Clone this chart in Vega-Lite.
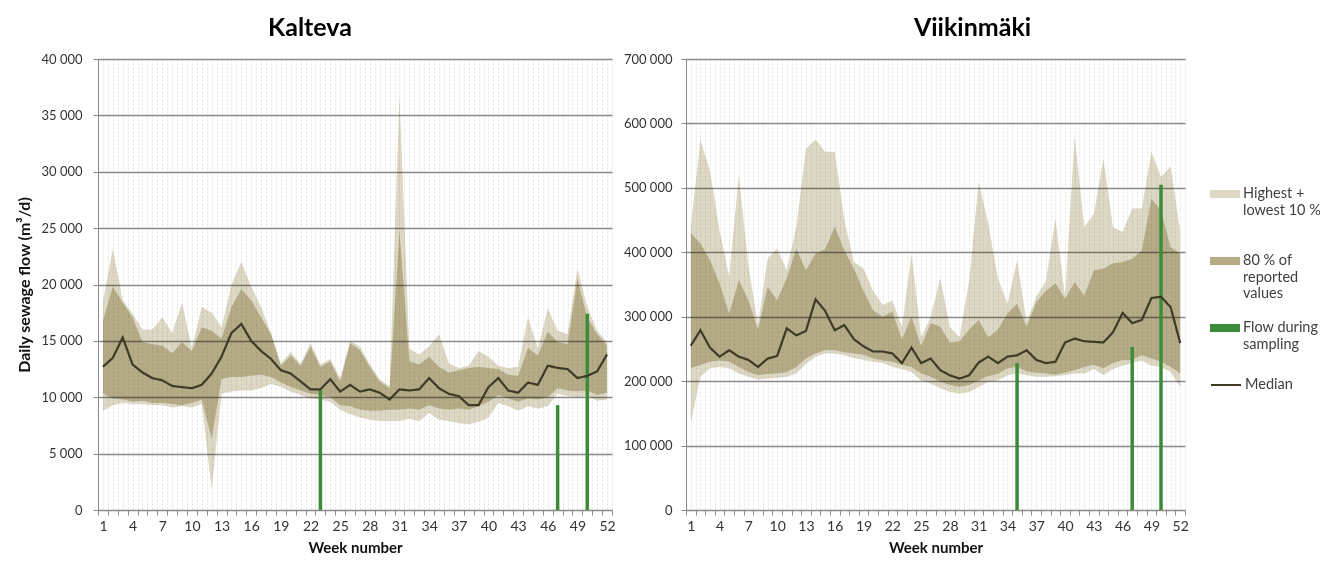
{
  "$schema": "https://vega.github.io/schema/vega-lite/v6.json",
  "background": "white",
  "padding": {"left": 16, "top": 16, "right": 0, "bottom": 0},
  "config": {
    "font": "Lato",
    "view": {"stroke": null},
    "locale": {"number": {"decimal": ".", "thousands": " ", "grouping": [3], "currency": ["", ""]}},
    "axis": {
      "labelFont": "Lato",
      "labelFontSize": 13,
      "labelColor": "#333333",
      "titleFont": "Lato",
      "titleFontSize": 15,
      "titleFontWeight": "bold",
      "titleColor": "#111111",
      "domainColor": "#8a8a8a",
      "tickColor": "#8a8a8a",
      "tickSize": 5
    },
    "legend": {"labelFont": "Lato", "labelFontSize": 14.5, "labelColor": "#404040", "labelLimit": 0, "labelOffset": 3},
    "title": {"font": "Lato", "fontSize": 25, "fontWeight": "bold", "color": "#000000", "anchor": "middle"}
  },
  "datasets": {
    "kalteva": [
      {"w": 1, "lo": 8800, "p10": 10300, "med": 12700, "p90": 16800, "hi": 18500},
      {"w": 2, "lo": 9300, "p10": 9900, "med": 13500, "p90": 19800, "hi": 23200},
      {"w": 3, "lo": 9500, "p10": 9800, "med": 15300, "p90": 18400, "hi": 18600},
      {"w": 4, "lo": 9400, "p10": 9600, "med": 12900, "p90": 17100, "hi": 17400},
      {"w": 5, "lo": 9400, "p10": 9700, "med": 12200, "p90": 14900, "hi": 16000},
      {"w": 6, "lo": 9300, "p10": 9500, "med": 11700, "p90": 14700, "hi": 16000},
      {"w": 7, "lo": 9300, "p10": 9500, "med": 11500, "p90": 14600, "hi": 17100},
      {"w": 8, "lo": 9100, "p10": 9400, "med": 11000, "p90": 13900, "hi": 15700},
      {"w": 9, "lo": 9200, "p10": 9300, "med": 10900, "p90": 14900, "hi": 18400},
      {"w": 10, "lo": 9100, "p10": 9500, "med": 10800, "p90": 14100, "hi": 14400},
      {"w": 11, "lo": 9400, "p10": 9800, "med": 11100, "p90": 16200, "hi": 18000},
      {"w": 12, "lo": 1800, "p10": 6300, "med": 12100, "p90": 15900, "hi": 17500},
      {"w": 13, "lo": 10300, "p10": 11600, "med": 13600, "p90": 15200, "hi": 16200},
      {"w": 14, "lo": 10500, "p10": 11800, "med": 15700, "p90": 18000, "hi": 20000},
      {"w": 15, "lo": 10600, "p10": 11800, "med": 16500, "p90": 19600, "hi": 22000},
      {"w": 16, "lo": 10600, "p10": 11900, "med": 15000, "p90": 18600, "hi": 19800},
      {"w": 17, "lo": 10800, "p10": 12000, "med": 14100, "p90": 17100, "hi": 18000},
      {"w": 18, "lo": 11200, "p10": 11800, "med": 13400, "p90": 15600, "hi": 15700},
      {"w": 19, "lo": 10900, "p10": 11300, "med": 12400, "p90": 12800, "hi": 13000},
      {"w": 20, "lo": 10500, "p10": 10900, "med": 12100, "p90": 13700, "hi": 14000},
      {"w": 21, "lo": 10200, "p10": 10600, "med": 11400, "p90": 12800, "hi": 13000},
      {"w": 22, "lo": 9900, "p10": 10300, "med": 10700, "p90": 14500, "hi": 14800},
      {"w": 23, "lo": 9800, "p10": 10200, "med": 10700, "p90": 12700, "hi": 12900},
      {"w": 24, "lo": 9600, "p10": 10000, "med": 11600, "p90": 13200, "hi": 13400},
      {"w": 25, "lo": 8900, "p10": 9300, "med": 10500, "p90": 11400, "hi": 11700},
      {"w": 26, "lo": 8500, "p10": 9200, "med": 11100, "p90": 14800, "hi": 15000},
      {"w": 27, "lo": 8200, "p10": 8900, "med": 10500, "p90": 14200, "hi": 14500},
      {"w": 28, "lo": 8000, "p10": 8800, "med": 10700, "p90": 12700, "hi": 12900},
      {"w": 29, "lo": 7900, "p10": 8800, "med": 10400, "p90": 11400, "hi": 11600},
      {"w": 30, "lo": 7900, "p10": 8900, "med": 9800, "p90": 10800, "hi": 11000},
      {"w": 31, "lo": 7900, "p10": 8900, "med": 10700, "p90": 24800, "hi": 36800},
      {"w": 32, "lo": 8100, "p10": 9000, "med": 10600, "p90": 13200, "hi": 14300},
      {"w": 33, "lo": 7900, "p10": 8900, "med": 10700, "p90": 12900, "hi": 13800},
      {"w": 34, "lo": 8600, "p10": 9300, "med": 11700, "p90": 13600, "hi": 14500},
      {"w": 35, "lo": 8000, "p10": 9000, "med": 10800, "p90": 12700, "hi": 15600},
      {"w": 36, "lo": 7900, "p10": 8900, "med": 10300, "p90": 12200, "hi": 13000},
      {"w": 37, "lo": 7700, "p10": 9000, "med": 10100, "p90": 12400, "hi": 12600},
      {"w": 38, "lo": 7600, "p10": 8900, "med": 9300, "p90": 12600, "hi": 12800},
      {"w": 39, "lo": 7800, "p10": 9200, "med": 9300, "p90": 12700, "hi": 14100},
      {"w": 40, "lo": 8200, "p10": 9600, "med": 10900, "p90": 12600, "hi": 13600},
      {"w": 41, "lo": 9500, "p10": 10200, "med": 11700, "p90": 12500, "hi": 12800},
      {"w": 42, "lo": 9200, "p10": 9900, "med": 10600, "p90": 12000, "hi": 12600},
      {"w": 43, "lo": 8800, "p10": 9600, "med": 10400, "p90": 11900, "hi": 12700},
      {"w": 44, "lo": 9200, "p10": 9900, "med": 11300, "p90": 14400, "hi": 17100},
      {"w": 45, "lo": 9000, "p10": 9800, "med": 11100, "p90": 13700, "hi": 14300},
      {"w": 46, "lo": 9200, "p10": 10000, "med": 12800, "p90": 15800, "hi": 17900},
      {"w": 47, "lo": 10300, "p10": 10800, "med": 12600, "p90": 14900, "hi": 15900},
      {"w": 48, "lo": 10100, "p10": 10600, "med": 12500, "p90": 14700, "hi": 15600},
      {"w": 49, "lo": 10000, "p10": 10500, "med": 11700, "p90": 20500, "hi": 21400},
      {"w": 50, "lo": 10100, "p10": 10600, "med": 11900, "p90": 17100, "hi": 18000},
      {"w": 51, "lo": 9700, "p10": 10200, "med": 12300, "p90": 15600, "hi": 15900},
      {"w": 52, "lo": 9800, "p10": 10400, "med": 13800, "p90": 14600, "hi": 14900}
    ],
    "kalteva_sampling": [
      {"w": 23, "flow": 10600},
      {"w": 47, "flow": 9300},
      {"w": 50, "flow": 17400}
    ],
    "viikinmaki": [
      {"w": 1, "lo": 135000, "p10": 220000, "med": 255000, "p90": 430000, "hi": 440000},
      {"w": 2, "lo": 207000, "p10": 225000, "med": 279000, "p90": 414000, "hi": 574000},
      {"w": 3, "lo": 220000, "p10": 230000, "med": 252000, "p90": 388000, "hi": 527000},
      {"w": 4, "lo": 222000, "p10": 232000, "med": 238000, "p90": 352000, "hi": 434000},
      {"w": 5, "lo": 220000, "p10": 230000, "med": 248000, "p90": 305000, "hi": 362000},
      {"w": 6, "lo": 212000, "p10": 222000, "med": 238000, "p90": 357000, "hi": 520000},
      {"w": 7, "lo": 207000, "p10": 214000, "med": 233000, "p90": 326000, "hi": 380000},
      {"w": 8, "lo": 202000, "p10": 209000, "med": 222000, "p90": 280000, "hi": 287000},
      {"w": 9, "lo": 204000, "p10": 211000, "med": 235000, "p90": 346000, "hi": 390000},
      {"w": 10, "lo": 205000, "p10": 212000, "med": 239000, "p90": 326000, "hi": 406000},
      {"w": 11, "lo": 207000, "p10": 214000, "med": 282000, "p90": 360000, "hi": 372000},
      {"w": 12, "lo": 212000, "p10": 222000, "med": 271000, "p90": 406000, "hi": 440000},
      {"w": 13, "lo": 227000, "p10": 235000, "med": 278000, "p90": 372000, "hi": 561000},
      {"w": 14, "lo": 238000, "p10": 243000, "med": 327000, "p90": 398000, "hi": 575000},
      {"w": 15, "lo": 243000, "p10": 248000, "med": 309000, "p90": 405000, "hi": 556000},
      {"w": 16, "lo": 243000, "p10": 248000, "med": 279000, "p90": 440000, "hi": 556000},
      {"w": 17, "lo": 240000, "p10": 245000, "med": 287000, "p90": 403000, "hi": 450000},
      {"w": 18, "lo": 236000, "p10": 243000, "med": 265000, "p90": 375000, "hi": 385000},
      {"w": 19, "lo": 233000, "p10": 241000, "med": 254000, "p90": 340000, "hi": 375000},
      {"w": 20, "lo": 230000, "p10": 235000, "med": 246000, "p90": 310000, "hi": 340000},
      {"w": 21, "lo": 228000, "p10": 232000, "med": 246000, "p90": 300000, "hi": 318000},
      {"w": 22, "lo": 222000, "p10": 230000, "med": 243000, "p90": 308000, "hi": 325000},
      {"w": 23, "lo": 219000, "p10": 225000, "med": 228000, "p90": 265000, "hi": 284000},
      {"w": 24, "lo": 214000, "p10": 222000, "med": 252000, "p90": 300000, "hi": 398000},
      {"w": 25, "lo": 201000, "p10": 212000, "med": 228000, "p90": 255000, "hi": 268000},
      {"w": 26, "lo": 196000, "p10": 207000, "med": 235000, "p90": 290000, "hi": 300000},
      {"w": 27, "lo": 189000, "p10": 199000, "med": 217000, "p90": 285000, "hi": 360000},
      {"w": 28, "lo": 183000, "p10": 194000, "med": 209000, "p90": 260000, "hi": 284000},
      {"w": 29, "lo": 181000, "p10": 191000, "med": 204000, "p90": 262000, "hi": 268000},
      {"w": 30, "lo": 183000, "p10": 194000, "med": 209000, "p90": 280000, "hi": 355000},
      {"w": 31, "lo": 191000, "p10": 201000, "med": 229000, "p90": 295000, "hi": 510000},
      {"w": 32, "lo": 199000, "p10": 208000, "med": 238000, "p90": 268000, "hi": 445000},
      {"w": 33, "lo": 201000, "p10": 211000, "med": 228000, "p90": 280000, "hi": 360000},
      {"w": 34, "lo": 209000, "p10": 220000, "med": 238000, "p90": 305000, "hi": 320000},
      {"w": 35, "lo": 212000, "p10": 222000, "med": 240000, "p90": 320000, "hi": 388000},
      {"w": 36, "lo": 209000, "p10": 215000, "med": 248000, "p90": 285000, "hi": 292000},
      {"w": 37, "lo": 207000, "p10": 213000, "med": 233000, "p90": 323000, "hi": 331000},
      {"w": 38, "lo": 207000, "p10": 212000, "med": 228000, "p90": 340000, "hi": 355000},
      {"w": 39, "lo": 208000, "p10": 210000, "med": 230000, "p90": 352000, "hi": 452000},
      {"w": 40, "lo": 209000, "p10": 213000, "med": 260000, "p90": 328000, "hi": 331000},
      {"w": 41, "lo": 212000, "p10": 217000, "med": 266000, "p90": 354000, "hi": 580000},
      {"w": 42, "lo": 212000, "p10": 222000, "med": 262000, "p90": 333000, "hi": 439000},
      {"w": 43, "lo": 219000, "p10": 225000, "med": 261000, "p90": 372000, "hi": 460000},
      {"w": 44, "lo": 209000, "p10": 220000, "med": 260000, "p90": 375000, "hi": 545000},
      {"w": 45, "lo": 219000, "p10": 228000, "med": 276000, "p90": 383000, "hi": 439000},
      {"w": 46, "lo": 224000, "p10": 233000, "med": 306000, "p90": 385000, "hi": 432000},
      {"w": 47, "lo": 228000, "p10": 233000, "med": 290000, "p90": 390000, "hi": 468000},
      {"w": 48, "lo": 232000, "p10": 240000, "med": 295000, "p90": 403000, "hi": 468000},
      {"w": 49, "lo": 224000, "p10": 235000, "med": 329000, "p90": 483000, "hi": 556000},
      {"w": 50, "lo": 222000, "p10": 230000, "med": 331000, "p90": 465000, "hi": 517000},
      {"w": 51, "lo": 214000, "p10": 222000, "med": 315000, "p90": 408000, "hi": 533000},
      {"w": 52, "lo": 191000, "p10": 212000, "med": 259000, "p90": 398000, "hi": 434000}
    ],
    "viikinmaki_sampling": [
      {"w": 35, "flow": 228000},
      {"w": 47, "flow": 253000},
      {"w": 50, "flow": 505000}
    ]
  },
  "hconcat": [
    {
      "width": 514,
      "height": 451,
      "title": {"text": "Kalteva", "dx": -45, "offset": 12},
      "data": {"name": "kalteva"},
      "encoding": {
        "x": {
          "field": "w",
          "type": "quantitative",
          "scale": {"domain": [0.5, 52.5], "nice": false, "zero": false},
          "axis": {
            "title": "Week number",
            "titlePadding": 7,
            "values": [0.5,1,1.5,2,2.5,3,3.5,4,4.5,5,5.5,6,6.5,7,7.5,8,8.5,9,9.5,10,10.5,11,11.5,12,12.5,13,13.5,14,14.5,15,15.5,16,16.5,17,17.5,18,18.5,19,19.5,20,20.5,21,21.5,22,22.5,23,23.5,24,24.5,25,25.5,26,26.5,27,27.5,28,28.5,29,29.5,30,30.5,31,31.5,32,32.5,33,33.5,34,34.5,35,35.5,36,36.5,37,37.5,38,38.5,39,39.5,40,40.5,41,41.5,42,42.5,43,43.5,44,44.5,45,45.5,46,46.5,47,47.5,48,48.5,49,49.5,50,50.5,51,51.5,52,52.5],
            "labelExpr": "datum.value % 3 === 1 ? datum.value : ''",
            "labelOverlap": false,
            "labelFlush": false,
            "labelBound": false,
            "labelPadding": 4,
            "labelFontSize": 14,
            "grid": true,
            "gridColor": "#e4e4e4",
            "gridDash": [2, 2],
            "gridWidth": 1,
            "tickOpacity": {"condition": {"test": "datum.value % 1 === 0", "value": 0}, "value": 1}
          }
        }
      },
      "layer": [
        {
          "mark": {"type": "area", "blend": "multiply"},
          "encoding": {
            "y": {
              "field": "p10",
              "type": "quantitative",
              "stack": null,
              "scale": {"domain": [0, 40000], "nice": false},
              "axis": {
                "title": "Daily sewage flow (m³/d)",
                "titleFontSize": 16,
                "titlePadding": 8,
                "values": [0, 5000, 10000, 15000, 20000, 25000, 30000, 35000, 40000],
                "format": ",d",
                "labelPadding": 11,
                "grid": true,
                "gridColor": "#8a8a8a",
                "gridWidth": 1.3
              }
            },
            "y2": {"field": "lo"},
            "color": {
              "datum": "Highest + lowest 10 %",
              "scale": {
                "domain": ["Highest + lowest 10 %", "80 % of reported values", "Flow during sampling"],
                "range": ["#ddd8c4", "#b5ac87", "#3c8b38"]
              },
              "legend": {
                "title": null,
                "orient": "none",
                "legendX": 1112,
                "legendY": 120,
                "symbolType": "M-1,-0.27H1V0.27H-1Z",
                "symbolSize": 900,
                "symbolOpacity": 1,
                "symbolStrokeWidth": 0,
                "labelBaseline": "middle",
                "labelLineHeight": 18,
                "rowPadding": 12,
                "labelExpr": "datum.value === 'Highest + lowest 10 %' ? ['Highest +', 'lowest 10 %', ''] : datum.value === '80 % of reported values' ? ['80 % of', 'reported', 'values'] : ['Flow during', 'sampling', '']"
              }
            }
          }
        },
        {
          "mark": {"type": "area", "blend": "multiply"},
          "encoding": {
            "y": {"field": "hi", "type": "quantitative", "stack": null},
            "y2": {"field": "p90"},
            "color": {"datum": "Highest + lowest 10 %"}
          }
        },
        {
          "mark": {"type": "area", "blend": "multiply"},
          "encoding": {
            "y": {"field": "p90", "type": "quantitative", "stack": null},
            "y2": {"field": "p10"},
            "color": {"datum": "80 % of reported values"}
          }
        },
        {
          "data": {"name": "kalteva_sampling"},
          "mark": {"type": "rule", "strokeWidth": 3.5},
          "encoding": {
            "y": {"field": "flow", "type": "quantitative"},
            "y2": {"datum": 0},
            "color": {"datum": "Flow during sampling"}
          }
        },
        {
          "mark": {"type": "line", "strokeWidth": 2.2, "color": "#3e3a26"},
          "encoding": {
            "y": {"field": "med", "type": "quantitative"},
            "strokeDash": {
              "datum": "Median",
              "scale": {"domain": ["Median"], "range": [[1, 0]]},
              "legend": {
                "title": null,
                "orient": "none",
                "legendX": 1112,
                "legendY": 310,
                "symbolType": "stroke",
                "symbolSize": 900,
                "symbolStrokeColor": "#3e3a26",
                "symbolStrokeWidth": 2,
                "symbolOpacity": 1
              }
            }
          }
        }
      ]
    },
    {
      "width": 499,
      "height": 451,
      "title": {"text": "Viikinmäki", "dx": 37, "offset": 12},
      "data": {"name": "viikinmaki"},
      "encoding": {
        "x": {
          "field": "w",
          "type": "quantitative",
          "scale": {"domain": [0.5, 52.5], "nice": false, "zero": false},
          "axis": {
            "title": "Week number",
            "titlePadding": 7,
            "values": [0.5,1,1.5,2,2.5,3,3.5,4,4.5,5,5.5,6,6.5,7,7.5,8,8.5,9,9.5,10,10.5,11,11.5,12,12.5,13,13.5,14,14.5,15,15.5,16,16.5,17,17.5,18,18.5,19,19.5,20,20.5,21,21.5,22,22.5,23,23.5,24,24.5,25,25.5,26,26.5,27,27.5,28,28.5,29,29.5,30,30.5,31,31.5,32,32.5,33,33.5,34,34.5,35,35.5,36,36.5,37,37.5,38,38.5,39,39.5,40,40.5,41,41.5,42,42.5,43,43.5,44,44.5,45,45.5,46,46.5,47,47.5,48,48.5,49,49.5,50,50.5,51,51.5,52,52.5],
            "labelExpr": "datum.value % 3 === 1 ? datum.value : ''",
            "labelOverlap": false,
            "labelFlush": false,
            "labelBound": false,
            "labelPadding": 4,
            "labelFontSize": 14,
            "grid": true,
            "gridColor": "#e4e4e4",
            "gridDash": [2, 2],
            "gridWidth": 1,
            "tickOpacity": {"condition": {"test": "datum.value % 1 === 0", "value": 0}, "value": 1}
          }
        }
      },
      "layer": [
        {
          "mark": {"type": "area", "blend": "multiply"},
          "encoding": {
            "y": {
              "field": "p10",
              "type": "quantitative",
              "stack": null,
              "scale": {"domain": [0, 700000], "nice": false},
              "axis": {
                "title": null,
                "values": [0, 100000, 200000, 300000, 400000, 500000, 600000, 700000],
                "format": ",d",
                "labelPadding": 9,
                "grid": true,
                "gridColor": "#8a8a8a",
                "gridWidth": 1.3
              }
            },
            "y2": {"field": "lo"},
            "color": {"datum": "Highest + lowest 10 %"}
          }
        },
        {
          "mark": {"type": "area", "blend": "multiply"},
          "encoding": {
            "y": {"field": "hi", "type": "quantitative", "stack": null},
            "y2": {"field": "p90"},
            "color": {"datum": "Highest + lowest 10 %"}
          }
        },
        {
          "mark": {"type": "area", "blend": "multiply"},
          "encoding": {
            "y": {"field": "p90", "type": "quantitative", "stack": null},
            "y2": {"field": "p10"},
            "color": {"datum": "80 % of reported values"}
          }
        },
        {
          "data": {"name": "viikinmaki_sampling"},
          "mark": {"type": "rule", "strokeWidth": 3.5},
          "encoding": {
            "y": {"field": "flow", "type": "quantitative"},
            "y2": {"datum": 0},
            "color": {"datum": "Flow during sampling"}
          }
        },
        {
          "mark": {"type": "line", "strokeWidth": 2.2, "color": "#3e3a26"},
          "encoding": {
            "y": {"field": "med", "type": "quantitative"},
            "strokeDash": {"datum": "Median"}
          }
        }
      ]
    }
  ],
  "spacing": 7,
  "resolve": {"scale": {"y": "independent", "color": "shared", "strokeDash": "shared"}, "legend": {"color": "shared", "strokeDash": "shared"}}
}
